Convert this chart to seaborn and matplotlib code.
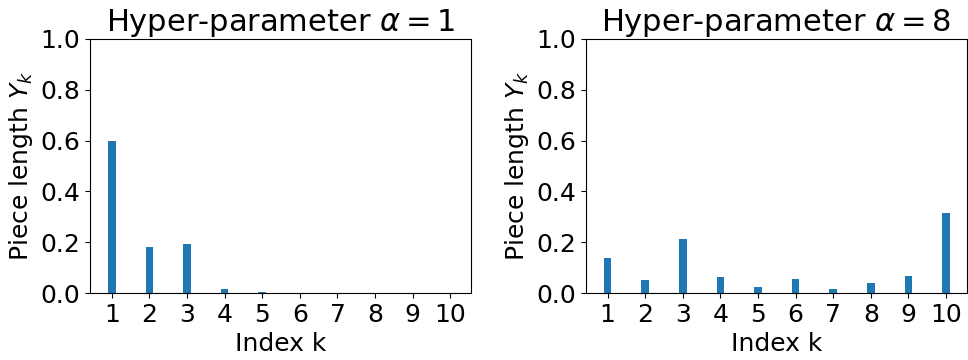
import numpy as np
import pandas as pd
import matplotlib
matplotlib.use("Agg")
import matplotlib.pyplot as plt
import seaborn as sns

# piece lengths
index_k = [1, 2, 3, 4, 5, 6, 7, 8, 9, 10]
alphas = [1, 8]
y_alpha1 = [0.597, 0.180, 0.193, 0.017, 0.005, 0.0, 0.0, 0.0, 0.0, 0.0]
y_alpha8 = [0.138, 0.052, 0.213, 0.064, 0.025, 0.056, 0.017, 0.040, 0.068, 0.315]
yticks = [0.0, 0.2, 0.4, 0.6, 0.8, 1.0]

fig, axes = plt.subplots(1, 2, figsize=(9.68, 3.6), dpi=100)
fig.subplots_adjust(left=0.093, right=0.999, top=0.892, bottom=0.186, wspace=0.30)

for ax, a, vals in zip(axes, alphas, [y_alpha1, y_alpha8]):
    df = pd.DataFrame({"k": index_k, "y": vals})
    sns.barplot(data=df, x="k", y="y", native_scale=True, width=0.2,
                color="#1f77b4", saturation=1, linewidth=0, ax=ax)
    ax.set_xlim(0.42, 10.56)
    ax.set_ylim(0, 1)
    ax.set_xticks(index_k)
    ax.set_xticklabels([str(k) for k in index_k])
    ax.set_yticks(yticks)
    ax.set_yticklabels([f"{t:.1f}" for t in yticks])
    ax.tick_params(labelsize=18)
    ax.set_xlabel("Index k", fontsize=18)
    ax.set_ylabel("Piece length $Y_k$", fontsize=18)
    ax.set_title(r"Hyper-parameter $\alpha = %d$" % a, fontsize=22)

fig.savefig("out.png", dpi=100)
